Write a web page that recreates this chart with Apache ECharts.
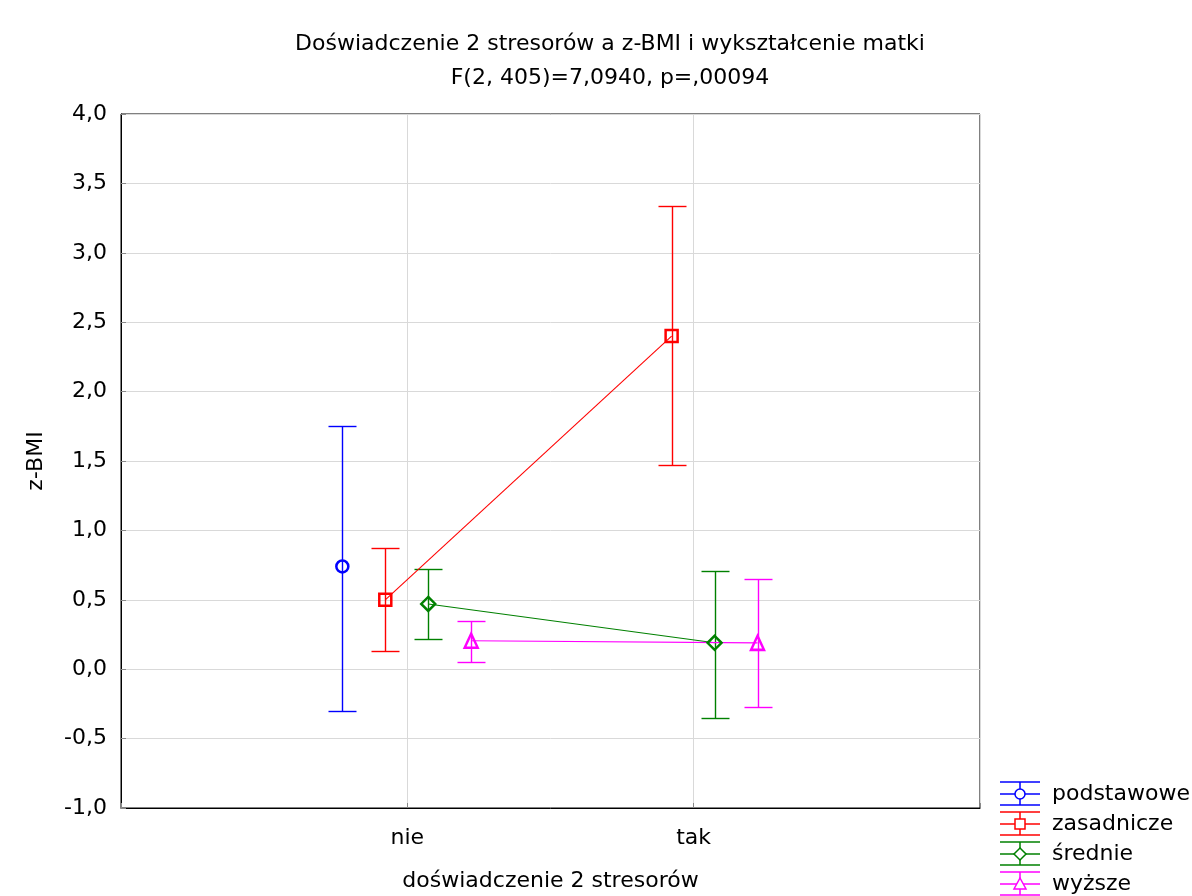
<!DOCTYPE html>
<html>
<head>
<meta charset="utf-8">
<script src="https://cdn.jsdelivr.net/npm/echarts@6/dist/echarts.min.js"></script>
<style>html,body{margin:0;padding:0;background:#fff;}#c{width:1192px;height:896px;}</style>
</head>
<body>
<div id="c"></div>
<script>
var categories = ['nie', 'tak'];
var seriesNames = ['podstawowe', 'zasadnicze', 'średnie', 'wyższe'];
var meansPodstawowe = [0.74, null];
var lowPodstawowe = [-0.30, null];
var highPodstawowe = [1.75, null];
var meansZasadnicze = [0.50, 2.40];
var lowZasadnicze = [0.13, 1.47];
var highZasadnicze = [0.87, 3.34];
var meansSrednie = [0.47, 0.19];
var lowSrednie = [0.22, -0.35];
var highSrednie = [0.72, 0.71];
var meansWyzsze = [0.205, 0.19];
var lowWyzsze = [0.055, -0.275];
var highWyzsze = [0.35, 0.65];

var colors = ['#0000ff', '#ff0000', '#008000', '#ff00ff'];
var symbols = ['circle', 'rect', 'diamond', 'triangle'];
var offsets = [-0.227, -0.077, 0.073, 0.223];
var allMeans = [meansPodstawowe, meansZasadnicze, meansSrednie, meansWyzsze];
var allLow = [lowPodstawowe, lowZasadnicze, lowSrednie, lowWyzsze];
var allHigh = [highPodstawowe, highZasadnicze, highSrednie, highWyzsze];

var FONT = '"DejaVu Sans", sans-serif';
var FS = 22;
function px(v) { return Math.round(v) + 0.5; }
var series = [];
seriesNames.forEach(function (name, s) {
  var errData = [];
  var lineData = [];
  categories.forEach(function (c, i) {
    var x = i + 1 + offsets[s];
    if (allMeans[s][i] !== null) {
      errData.push([x, allLow[s][i], allHigh[s][i]]);
      lineData.push([x, allMeans[s][i]]);
    }
  });
  series.push({
    type: 'custom',
    name: name,
    data: errData,
    z: 2,
    silent: true,
    renderItem: function (params, api) {
      var x = api.value(0);
      var lo = api.coord([x, api.value(1)]);
      var hi = api.coord([x, api.value(2)]);
      var w = 14;
      var cx = px(lo[0]), ly = px(lo[1]), hy = px(hi[1]);
      var st = { stroke: colors[s], lineWidth: 1.4 };
      return {
        type: 'group',
        children: [
          { type: 'line', shape: { x1: cx, y1: ly, x2: cx, y2: hy }, style: st },
          { type: 'line', shape: { x1: cx - w, y1: ly, x2: cx + w, y2: ly }, style: st },
          { type: 'line', shape: { x1: cx - w, y1: hy, x2: cx + w, y2: hy }, style: st }
        ]
      };
    }
  });
  series.push({
    type: 'line',
    name: name,
    data: lineData,
    z: 3,
    symbol: symbols[s],
    symbolSize: s === 2 ? 14 : (s === 3 ? [13, 14] : 12),
    showSymbol: true,
    lineStyle: { color: colors[s], width: 1.1 },
    itemStyle: { color: 'rgba(255,255,255,0)', borderColor: colors[s], borderWidth: 2.5 },
    emphasis: { disabled: true },
    animation: false
  });
});

// legend drawn as graphic
var legendChildren = [];
seriesNames.forEach(function (name, s) {
  var cy = 794 + s * 30;
  var cx = 1020;
  var st = { stroke: colors[s], lineWidth: 1.5, fill: null };
  legendChildren.push({ type: 'line', shape: { x1: cx - 20, y1: cy - 12, x2: cx + 20, y2: cy - 12 }, style: st });
  legendChildren.push({ type: 'line', shape: { x1: cx - 20, y1: cy, x2: cx + 20, y2: cy }, style: st });
  legendChildren.push({ type: 'line', shape: { x1: cx - 20, y1: cy + 11, x2: cx + 20, y2: cy + 11 }, style: st });
  legendChildren.push({ type: 'line', shape: { x1: cx, y1: cy - 12, x2: cx, y2: cy + 11 }, style: st });
  var ms = { stroke: colors[s], lineWidth: 1.5, fill: '#fff' };
  if (s === 0) legendChildren.push({ type: 'circle', shape: { cx: cx, cy: cy, r: 5 }, style: ms });
  if (s === 1) legendChildren.push({ type: 'rect', shape: { x: cx - 5, y: cy - 5, width: 10, height: 10 }, style: ms });
  if (s === 2) legendChildren.push({ type: 'polygon', shape: { points: [[cx, cy - 6], [cx + 6, cy], [cx, cy + 6], [cx - 6, cy]] }, style: ms });
  if (s === 3) legendChildren.push({ type: 'polygon', shape: { points: [[cx, cy - 6], [cx + 6, cy + 5], [cx - 6, cy + 5]] }, style: ms });
  legendChildren.push({ type: 'text', x: 1052, y: cy, style: { text: name, font: FS + 'px ' + FONT, fill: '#000', verticalAlign: 'middle', align: 'left' } });
});

var chart = echarts.init(document.getElementById('c'), null, { renderer: 'canvas' });
chart.setOption({
  animation: false,
  backgroundColor: '#fff',
  textStyle: { fontFamily: FONT },
  title: {
    text: 'Doświadczenie 2 stresorów a z-BMI i wykształcenie matki\nF(2, 405)=7,0940, p=,00094',
    left: 605,
    top: 22,
    textAlign: 'center',
    textStyle: { fontSize: FS, fontWeight: 'normal', color: '#000', fontFamily: FONT, lineHeight: 34 }
  },
  grid: { left: 121, top: 114, right: 212, bottom: 88, show: true, borderColor: '#000', borderWidth: 1, backgroundColor: 'transparent', containLabel: false, outerBoundsMode: 'none' },
  xAxis: {
    type: 'value',
    min: 0, max: 3, interval: 1,
    name: 'doświadczenie 2 stresorów',
    nameLocation: 'middle',
    nameGap: 62,
    nameTextStyle: { fontSize: FS, color: '#000', fontFamily: FONT },
    axisLine: { show: true, onZero: false, lineStyle: { color: '#000', width: 1 } },
    axisTick: { show: true, inside: true, length: 5, lineStyle: { color: '#888' } },
    axisLabel: {
      fontSize: FS, color: '#000', margin: 19, fontFamily: FONT,
      formatter: function (v) { return categories[v - 1] || ''; }
    },
    splitLine: { show: true, lineStyle: { color: '#d9d9d9', width: 1 } }
  },
  yAxis: {
    type: 'value',
    min: -1, max: 4, interval: 0.5,
    name: 'z-BMI',
    nameLocation: 'middle',
    nameGap: 74,
    nameRotate: 90,
    nameTextStyle: { fontSize: FS, color: '#000', fontFamily: FONT },
    axisLine: { show: true, lineStyle: { color: '#000', width: 1 } },
    axisTick: { show: true, inside: true, length: 5, lineStyle: { color: '#888' } },
    axisLabel: {
      fontSize: FS, color: '#000', margin: 14, fontFamily: FONT,
      formatter: function (v) { return v.toFixed(1).replace('.', ','); }
    },
    splitLine: { show: true, lineStyle: { color: '#d9d9d9', width: 1 } }
  },
  series: series,
  graphic: [{ type: 'group', children: legendChildren }]
});
</script>
</body>
</html>
